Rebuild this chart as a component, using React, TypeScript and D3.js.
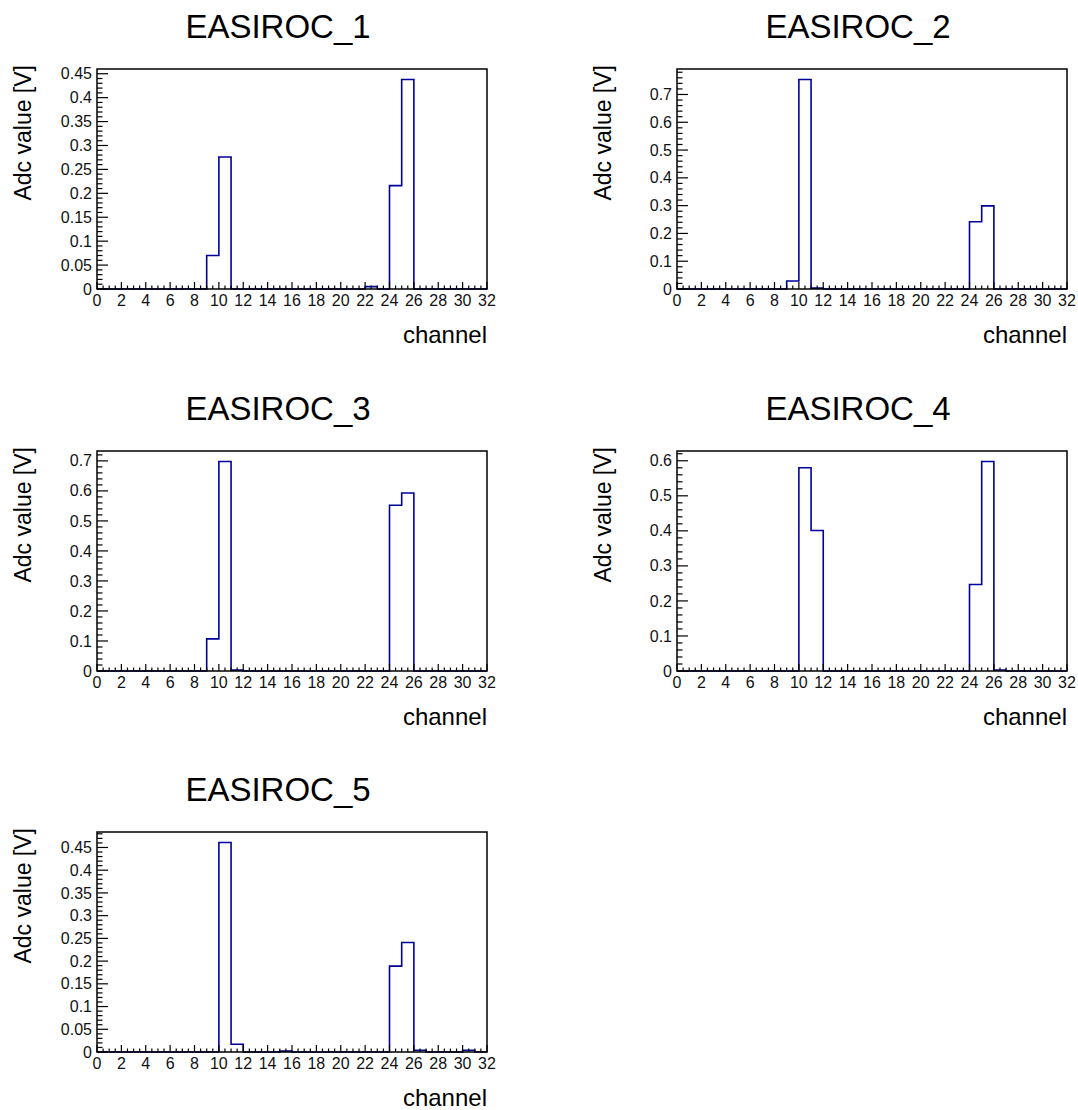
import React from 'react';
import * as d3 from 'd3';

// ADC value per channel (0..31) for each EASIROC board
const channels = d3.range(32);

const titles = ['EASIROC_1', 'EASIROC_2', 'EASIROC_3', 'EASIROC_4', 'EASIROC_5'];

const easiroc1 = [0, 0, 0, 0, 0, 0, 0, 0, 0, 0.070, 0.276, 0, 0, 0, 0, 0, 0, 0, 0, 0, 0, 0, 0.005, 0, 0.216, 0.438, 0, 0, 0, 0, 0, 0];
const easiroc2 = [0, 0, 0, 0, 0, 0, 0, 0, 0, 0.029, 0.754, 0.003, 0, 0, 0, 0, 0, 0, 0, 0, 0, 0, 0, 0, 0.242, 0.299, 0, 0, 0, 0, 0, 0];
const easiroc3 = [0, 0, 0, 0, 0, 0, 0, 0, 0, 0.107, 0.698, 0.003, 0, 0, 0, 0, 0, 0, 0, 0, 0, 0, 0, 0, 0.552, 0.593, 0, 0, 0, 0, 0, 0];
const easiroc4 = [0, 0, 0, 0, 0, 0, 0, 0, 0, 0, 0.580, 0.401, 0, 0, 0, 0, 0, 0, 0, 0, 0, 0, 0, 0, 0.247, 0.598, 0.003, 0, 0, 0, 0, 0];
const easiroc5 = [0, 0, 0, 0, 0, 0, 0, 0, 0, 0, 0.461, 0.017, 0, 0, 0, 0.002, 0, 0, 0, 0, 0, 0, 0, 0, 0.189, 0.241, 0.004, 0, 0, 0, 0.004, 0];

const series = [easiroc1, easiroc2, easiroc3, easiroc4, easiroc5];

const xTickLabels = d3.range(0, 33, 2);

const FONT = '"Liberation Sans", Arial, Helvetica, sans-serif';
const LINE = '#000099';

const colX = [0, 580];
const rowY = [0, 382, 763];

const frame = { left: 97, right: 487, top: 69, bottom: 289 };

const fmt = (v: number) => d3.format('.2~f')(v);

const Panel = ({ title, values, ox, oy }: { title: string; values: number[]; ox: number; oy: number }) => {
  const x = d3.scaleLinear().domain([0, 32]).range([frame.left, frame.right]);
  const ymax = (d3.max(values) as number) * 1.05;
  const y = d3.scaleLinear().domain([0, ymax]).range([frame.bottom, frame.top]);

  const majors = y.ticks(8);
  const step = majors.length > 1 ? majors[1] - majors[0] : 0.1;
  const minors = d3.range(0, ymax + 1e-9, step / 5);
  const xMinors = d3.range(0, 32.001, 0.5);

  const pts: [number, number][] = channels.map((c) => [c, values[c]]);
  pts.push([32, values[31]]);
  const line = d3
    .line<[number, number]>()
    .x((d) => x(d[0]))
    .y((d) => y(d[1]))
    .curve(d3.curveStepAfter);
  const path = `M${x(0)},${y(0)}L` + (line(pts) as string).slice(1) + `L${x(32)},${y(0)}`;

  return (
    <g transform={`translate(${ox},${oy})`} fontFamily={FONT}>
      <text x={278} y={38} fontSize={33} textAnchor="middle" fill="#000">
        {title}
      </text>
      <path d={path} fill="none" stroke={LINE} strokeWidth={1.6} />
      {/* x ticks */}
      {xMinors.map((v) => {
        const major = Math.abs(v % 2) < 1e-9;
        return (
          <line key={'xm' + v} x1={x(v)} x2={x(v)} y1={frame.bottom} y2={frame.bottom - (major ? 7 : 3.5)} stroke="#000" strokeWidth={1.2} />
        );
      })}
      {xTickLabels.map((v) => (
        <text key={'xl' + v} x={x(v)} y={frame.bottom + 17} fontSize={16} textAnchor="middle" fill="#111">
          {v}
        </text>
      ))}
      {/* y ticks */}
      {minors.map((v, i) => {
        const major = i % 5 === 0;
        return (
          <line key={'ym' + i} x1={frame.left} x2={frame.left + (major ? 11 : 5.5)} y1={y(v)} y2={y(v)} stroke="#000" strokeWidth={1.2} />
        );
      })}
      {majors.map((v) => (
        <text key={'yl' + v} x={frame.left - 5} y={y(v)} dy="0.35em" fontSize={16} textAnchor="end" fill="#111">
          {fmt(v)}
        </text>
      ))}
      <rect
        x={frame.left}
        y={frame.top}
        width={frame.right - frame.left}
        height={frame.bottom - frame.top}
        fill="none"
        stroke="#000"
        strokeWidth={1.5}
      />
      <text x={frame.right} y={343} fontSize={24} textAnchor="end" fill="#000">
        channel
      </text>
      <text transform={`translate(31,${frame.top - 4}) rotate(-90)`} fontSize={23} textAnchor="end" fill="#000">
        Adc value [V]
      </text>
    </g>
  );
};

export default function App() {
  return (
    <svg width={1078} height={1110} style={{ position: 'absolute', left: 0, top: 0, background: '#fff' }}>
      <rect width={1078} height={1110} fill="#fff" />
      {series.map((vals, i) => (
        <Panel key={titles[i]} title={titles[i]} values={vals} ox={colX[i % 2]} oy={rowY[Math.floor(i / 2)]} />
      ))}
    </svg>
  );
}
